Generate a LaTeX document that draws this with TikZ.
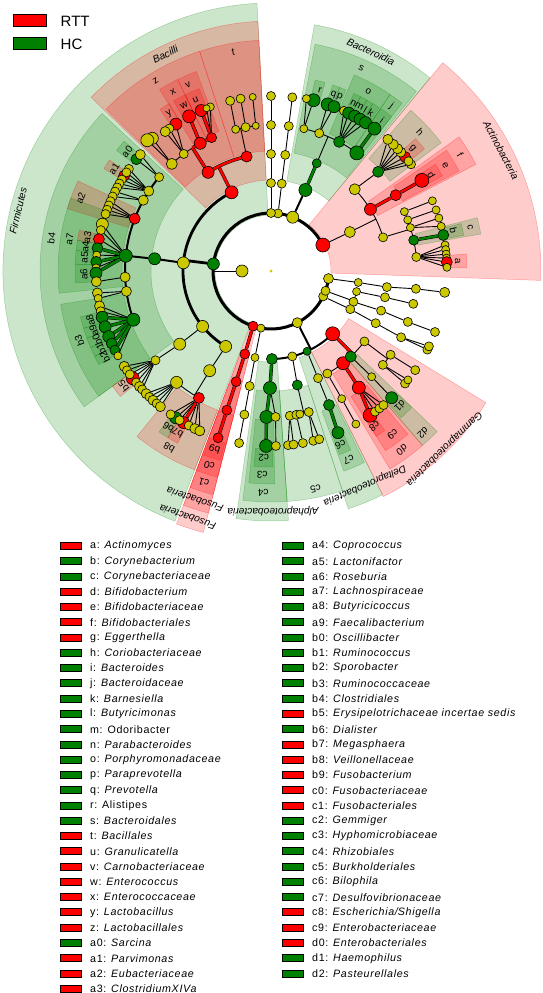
\documentclass[tikz,border=0pt]{standalone}
\usepackage{fontspec}
\setmainfont{Liberation Sans}
\newfontfamily\legfont[LetterSpace=6]{Liberation Sans}
\usetikzlibrary{positioning}
\definecolor{rtt}{RGB}{255,0,0}
\definecolor{hcg}{RGB}{0,128,0}
\definecolor{olv}{RGB}{204,200,0}
\pgfdeclarelayer{bg}
\pgfsetlayers{bg,main}

\begin{document}
\begin{tikzpicture}[x=1pt, y=1pt,
  nd/.style={circle, draw=black, line width=0.6pt, inner sep=0pt},
  yel/.style={nd, fill=olv},
  rd/.style={nd, fill=rtt},
  gr/.style={nd, fill=hcg},
  lnk/.style={line width=0.9pt},
  tlnk/.style={line width=2pt},
  rl/.style={line width=0.5pt, double=rtt, double distance=2.4pt},
  gl/.style={line width=0.5pt, double=hcg, double distance=2.4pt},
  glab/.style={font=\fontsize{10}{12}\selectfont, inner sep=0pt},
  clab/.style={font=\fontsize{10.2}{12}\selectfont\itshape, inner sep=0pt},
  legbox/.style={draw=black, line width=1pt, minimum width=21pt, minimum height=7pt, inner sep=0pt},
  legtxt/.style={font=\legfont\fontsize{10.7}{12}\selectfont, inner sep=0pt}
]
\useasboundingbox (-271,-722) rectangle (272,271);

% clades
\node[circle, fill=olv, inner sep=0pt, minimum size=3pt] (root) at (0,0) {};
\foreach \nm/\rr/\an/\st/\sz in {
  K/29/180/yel/12,
  pAct/58/26.6/rd/14, pBac/58/68/yel/12, pX1/58/83/yel/9, pX2/58/90/yel/9,
  pFir/58/173/gr/12, pFus/58/252/rd/10, pY/58/260/yel/8, pPro/58/297/yel/10,
  pR3/58/334/yel/9, pR2/58/340/yel/9, pR1/58/352.5/yel/10,
  % Actinobacteria
  cAct/88/26.3/yel/11, oAm/117/16.7/yel/9, f/117/31.8/rd/12, oCo/117/44.3/yel/11,
  fA1/146/24/yel/8, fA2/146/20.5/yel/8, fA3/146/17.3/yel/8, c/146/12.2/gr/10, fAm/146/5.5/yel/9,
  gA1/176/23.5/yel/8, gA2/176/20.3/yel/8, gA3/176/17.5/yel/8, gA4/176/14.7/yel/8, b/176/11.8/gr/11,
  gAm1/176/8.5/yel/8, gAm2/176/7/yel/8, gAm3/176/5.5/yel/8, gAm4/176/4.2/yel/8, a/176/2.9/rd/11, gAm5/176/1.2/yel/8,
  e/146/31.3/rd/11, d/176/31/rd/14,
  h/146/42.8/gr/11, g/176/40.4/rd/11, gH1/176/37.3/yel/9, gH2/176/38.6/yel/9,
  gH3/176/42.5/yel/10, gH4/176/44/yel/10, gH5/176/46/yel/10, gH6/176/48.4/yel/10,
  % Bacteroidetes
  cBa/88/67/gr/13, s/117/67/gr/9,
  fRi/146/77/yel/8, fPr/146/70.7/yel/9, o/146/62.2/gr/11, j/146/54/gr/14,
  r/176/76/gr/13, gRi/176/78.4/yel/8, q/176/71.2/gr/13, p/176/69/gr/12,
  gO0/176/65.5/yel/9, n/176/63.8/gr/12, m/176/61.6/gr/12, l/176/59.6/gr/12, k/176/57.5/gr/12,
  i/176/54/gr/13,
  cX1/88/83/yel/9, oX1/117/83/yel/9, fX1/146/83/yel/9, gX1/175/83/yel/9,
  cX2/88/90/yel/9, oX2/117/90/yel/9, fX2/146/90/yel/9, gX2/175/90/yel/9,
  % Firmicutes
  Bacl/88/116.6/rd/13, Clo/88/174.7/yel/12, Ery/88/219/yel/12, Neg/88/239/yel/12,
  t/117/102/rd/11, z/117/122.5/rd/12,
  fT1/146/104/yel/8, fT2/146/100/yel/9, fT3/146/96/yel/7,
  gT1/175/103.5/yel/9, gT2/175/100/yel/9, gT3/175/96/yel/7,
  v/146/114/rd/10, x/146/119/rd/12, fLa/146/126.7/yel/9, fZ4/146/132.8/yel/11,
  u/175/113.5/rd/12, gV1/175/110.3/yel/8, gV2/175/111.6/yel/7, w/175/117.9/rd/13,
  y/175/122.9/rd/12, gL1/175/125.5/yel/9, gL2/175/127.2/yel/10,
  gZ1/178/131.8/yel/12, gZ2/180/133.4/yel/13,
  b4/117/174/gr/12,
  fC1/146/140/yel/9, fC2/146/146.8/yel/10, fC3/146/151/yel/10, a2/146/159/rd/11,
  a7/146/174/gr/13, fC6/146/182.4/yel/10, fC7/146/188/yel/10, b3/146/199.5/gr/13,
  a0/175/140.3/gr/11, gC11/175/138.3/yel/10,
  a1/175/147/rd/11, gC21/175/144.3/yel/9, gC22/175/145.7/yel/9, gC23/175/148.5/yel/9, gC24/175/150/yel/9, gC25/175/151.5/yel/9,
  gC31/175/153/yel/9, gC32/175/154.8/yel/9,
  gE1/175/156.5/yel/9, gE2/175/158/yel/9, gE3/175/159.5/yel/9, gE4/175/161/yel/9,
  gL71/175/164.5/yel/12, gL72/175/166.5/yel/9, a3/175/169.5/rd/11, a4/175/172.5/gr/11,
  gL73/175/174.8/yel/8, a5/175/177/gr/11, gL74/175/179/yel/8, a6/175/180.7/gr/12,
  gC61/175/183.5/yel/10, gC71/175/187.2/yel/10, gC72/175/189/yel/8,
  gRu1/175/191.5/yel/10, gRu2/175/193.3/yel/9, a8/175/195.3/gr/12, a9/175/198.6/gr/12,
  b0/175/202/gr/12, b1/175/204.5/gr/11, b2/175/206.9/gr/10, gRu3/175/209/yel/8,
  eO/117/218.7/yel/12, eF/146/217.7/yel/9,
  b5/175/217.8/rd/13, gEr1/175/213/yel/10, gEr2/175/214.6/yel/9, gEr3/175/216.2/yel/9,
  gEr4/175/219.6/yel/9, gEr5/175/221.3/yel/10, gEr6/175/222.6/yel/9,
  nO/117/238.4/yel/12, nF1/146/229.7/yel/12, b8/146/240.4/rd/11,
  gN1/175/224.5/yel/10, gN2/175/226/yel/9, gN3/175/227.6/yel/10, gN4/175/229.2/yel/9, gN5/175/230.8/yel/10,
  b6/175/237/gr/12, b7/175/240/rd/12, gW1/175/235/yel/9, gW2/175/238.5/yel/9,
  gW3/175/242/yel/9, gW4/175/244.2/yel/10, gW5/175/246/yel/10,
  % Fusobacteria
  cFu/87/252.5/rd/10, c1/116/252.5/rd/10, c0/146/252.4/rd/10, b9/175/252.4/rd/10,
  cY/88/259.5/yel/8, oY/117/259.5/yel/9, fY/146/259.5/yel/9, gY/175/259.5/yel/9,
  % Proteobacteria
  alp/88/270.6/gr/11, bet/88/284/yel/9, del/88/294.2/gr/8, gam/88/314.5/rd/14,
  c4/117/269.5/gr/13, c3/146/268.2/gr/13, fAl2/146/271.8/yel/9, c2/175/268.4/gr/13, gAl2/175/271.6/yel/9,
  c5/117/283/gr/10, fB1/146/277.4/yel/9, fB2/146/280/yel/9, fB3/146/281.4/yel/8, fB4/146/285/yel/9,
  gBe1/175/275.6/yel/9, gBe2/175/277.4/yel/9, gBe3/175/280.5/yel/9, gBe4/175/284/yel/9, gBe5/175/286/yel/9,
  dO/117/293.7/yel/9, c7/146/293.4/gr/11, c6/175/292.5/gr/12,
  gO1/117/298.8/yel/9, d0/117/308/rd/13, d2/117/313/gr/11, gO4/117/323/yel/9,
  gF1/146/299/yel/8, gG1/175/299/yel/8,
  c9/146/307/rd/13, c8/175/304.5/rd/14, gC91/175/306.5/yel/9, gC92/175/308.3/yel/9, gC93/175/310/yel/9,
  dF/146/313.6/yel/8, d1/175/313.6/gr/12,
  fG41/146/320/yel/9, fG42/146/325/yel/9, gG41/175/320/yel/9, gG42/175/321.5/yel/8, gG43/175/325.5/yel/9,
  % right side
  cQ1/88/352.5/yel/8, oQ1/117/352.1/yel/9, fQ1/146/353/yel/9, gQ1/175/353/yel/10,
  cQ2/88/346.5/yel/8, oQ2/117/347/yel/9, fQ2/146/347/yel/9,
  cQ3/88/339.5/yel/9, oQ3/117/340.2/yel/9, fQ3/146/339.6/yel/9, gQ3/175/339.6/yel/9,
  cQ4/88/334.3/yel/9, oQ4/117/333.5/yel/9, fQ4/146/333/yel/9, gQ4/175/333.3/yel/9, gQ5/175/334.5/yel/9}
  \node[\st, minimum size=\sz pt] (\nm) at (\an:\rr) {};

\begin{pgfonlayer}{bg}
% shaded clades: colour / inner / outer / from / to
\foreach \cl/\ri/\ro/\aa/\ab in {
  hcg/56/268/93/249, rtt/60/270/-2/50.5, rtt/56/270/249.5/255.5,
  rtt/91/250/93/136, hcg/91/250/50.5/80, rtt/90/250/249.5/255.5,
  hcg/91/250/262/274, hcg/91/250/288/296.5, rtt/91/252/296.5/328.5,
  rtt/120/231/93/108, rtt/120/231/108/135.5, hcg/120/231/137/216, rtt/120/231/27.5/35.5,
  hcg/120/231/51/79, rtt/120/231/249.5/255.5, hcg/120/231/263/274, hcg/120/231/274/288,
  rtt/120/231/301/311, hcg/120/231/311/316,
  rtt/149/213/110.5/116, rtt/149/213/116/121.5, rtt/149/213/155/163, hcg/149/213/160/186,
  hcg/149/213/189/216, rtt/149/213/231/249, rtt/149/213/28/34.5, hcg/149/213/37/49,
  hcg/149/213/10/14.5, hcg/149/213/56/67, hcg/149/213/52/56, rtt/149/213/249.5/255.5,
  hcg/149/213/264/271, hcg/149/213/290/296, rtt/149/213/302.5/310,
  rtt/178/196/1/5, hcg/178/196/10.5/14, rtt/178/196/29/33, rtt/178/196/38.5/42.5,
  hcg/178/196/52/56, hcg/178/196/56.5/58.7, hcg/178/196/58.7/60.7, hcg/178/196/60.7/62.8,
  hcg/178/196/62.8/65, hcg/178/196/67.5/69.5, hcg/178/196/69.5/71.7, hcg/178/196/74/77,
  rtt/178/196/111.5/116, rtt/178/196/116/119.8, rtt/178/196/121.3/124.5,
  hcg/178/196/138.5/142, rtt/178/196/145.5/148.5, rtt/178/196/168/171, hcg/178/196/171/174,
  hcg/178/196/174/178, hcg/178/196/178/183.5, hcg/178/196/193.5/197, hcg/178/196/197/200,
  hcg/178/196/200/203, hcg/178/196/203/205.8, hcg/178/196/205.8/208.5, rtt/178/196/216/219.8,
  hcg/178/196/235.2/238.3, rtt/178/196/238.3/241.5, rtt/178/196/250/255, hcg/178/196/265/270.5,
  hcg/178/196/290.5/294, rtt/178/196/302.5/305.5, hcg/178/196/311.5/315.8}
  \filldraw[fill=\cl, draw=\cl, fill opacity=0.2, draw opacity=0.3, line width=0.5pt]
    (\aa:\ri) arc[start angle=\aa, end angle=\ab, radius=\ri]
    -- (\ab:\ro) arc[start angle=\ab, end angle=\aa, radius=\ro] -- cycle;

% arcs of the tree
\draw[line width=3pt] (26.6:58) arc[start angle=26.6, end angle=352.5, radius=58];
\draw[lnk] (K) -- (180:58);
\draw[line width=2.8pt] (pFir) -- (173:88);
\draw[line width=2.8pt] (116.6:88) arc[start angle=116.6, end angle=239, radius=88];
\draw[lnk] (cAct) -- (26.3:117);
\draw[lnk] (16.7:117) arc[start angle=16.7, end angle=44.3, radius=117];
\draw[lnk] (oAm) -- (16.7:146);
\draw[lnk] (5.5:146) arc[start angle=5.5, end angle=24, radius=146];
\draw[lnk] (s) -- (67:146);
\draw[lnk] (54:146) arc[start angle=54, end angle=77, radius=146];
\draw[rl] (Bacl) -- (116.6:117);
\draw[rl] (102:117) arc[start angle=102, end angle=122.5, radius=117];
\draw[lnk] (t) -- (102:146);
\draw[lnk] (96:146) arc[start angle=96, end angle=104, radius=146];
\draw[lnk] (122.5:146) arc[start angle=122.5, end angle=132.8, radius=146];
\draw[rl] (z) -- (122.5:146);
\draw[rl] (114:146) arc[start angle=114, end angle=122.5, radius=146];
\draw[tlnk] (b4) -- (174:146);
\draw[tlnk] (140:146) arc[start angle=140, end angle=199.5, radius=146];
\draw[lnk] (nO) -- (238.4:146);
\draw[lnk] (229.7:146) arc[start angle=229.7, end angle=240.4, radius=146];
\draw[tlnk] (pPro) -- (297:88);
\draw[tlnk] (270.6:88) arc[start angle=270.6, end angle=314.5, radius=88];
\draw[lnk] (c5) -- (283:146);
\draw[lnk] (277.4:146) arc[start angle=277.4, end angle=285, radius=146];
\draw[lnk] (298.8:117) arc[start angle=298.8, end angle=323, radius=117];
\draw[rl] (gam) -- (314.5:117);
\draw[rl] (308:117) arc[start angle=308, end angle=314.5, radius=117];
\draw[lnk] (gO4) -- (323:146);
\draw[lnk] (320:146) arc[start angle=320, end angle=325, radius=146];
\draw[lnk] (pR2) -- (340:88);
\draw[lnk] (339.5:88) arc[start angle=339.5, end angle=346.5, radius=88];

% straight links
\foreach \pa/\ch in {pAct/cAct, oCo/h, fA1/gA1, fA2/gA2, fA3/gA3, fA3/gA4,
  fAm/gAm1, fAm/gAm2, fAm/gAm3, fAm/gAm4, fAm/a, fAm/gAm5,
  h/g, h/gH1, h/gH2, h/gH3, h/gH4, h/gH5, h/gH6,
  fRi/r, fRi/gRi, fPr/q, fPr/p, o/gO0, o/n, o/m, o/l, o/k,
  pX1/cX1, cX1/oX1, oX1/fX1, fX1/gX1, pX2/cX2, cX2/oX2, oX2/fX2, fX2/gX2,
  fT1/gT1, fT2/gT2, fT3/gT3, v/gV1, v/gV2, fLa/y, fLa/gL1, fLa/gL2, fZ4/gZ1, fZ4/gZ2,
  fC1/a0, fC1/gC11, fC2/a1, fC2/gC21, fC2/gC22, fC2/gC23, fC2/gC24, fC2/gC25,
  fC3/gC31, fC3/gC32, a2/gE1, a2/gE2, a2/gE3, a2/gE4,
  a7/gL71, a7/gL72, a7/a3, a7/gL73, a7/gL74, fC6/gC61, fC7/gC71, fC7/gC72,
  b3/gRu1, b3/gRu2, b3/gRu3, Ery/eO, eO/eF, eF/b5, eF/gEr1, eF/gEr2, eF/gEr3,
  eF/gEr4, eF/gEr5, eF/gEr6, Neg/nO, nF1/gN1, nF1/gN2, nF1/gN3, nF1/gN4, nF1/gN5,
  b8/b6, b8/gW1, b8/gW2, b8/gW3, b8/gW4, b8/gW5,
  pY/cY, cY/oY, oY/fY, fY/gY, bet/c5, del/dO, dO/c7, c4/fAl2, fAl2/gAl2,
  fB1/gBe1, fB1/gBe2, fB2/gBe3, fB4/gBe4, fB4/gBe5,
  gO1/gF1, gF1/gG1, d2/dF, dF/d1, fG41/gG41, fG41/gG42, fG42/gG43, c9/gC91, c9/gC92, c9/gC93,
  pR1/cQ1, cQ1/oQ1, oQ1/fQ1, fQ1/gQ1, cQ2/oQ2, oQ2/fQ2, cQ3/oQ3, oQ3/fQ3, fQ3/gQ3,
  pR3/cQ4, cQ4/oQ4, oQ4/fQ4, fQ4/gQ4, fQ4/gQ5}
  \draw[lnk] (\pa) -- (\ch);
\draw[tlnk] (pBac) -- (cBa);
\draw[tlnk] (Clo) -- (b4);
\foreach \pa/\ch in {c/b, cBa/s, j/i, a7/a4, a7/a5, a7/a6, b3/a8, b3/a9, b3/b0, b3/b1, b3/b2,
  alp/c4, c4/c3, c3/c2, c7/c6}
  \draw[gl] (\pa) -- (\ch);
\foreach \pa/\ch in {f/e, e/d, v/u, x/w, b8/b7, pFus/cFu, cFu/c1, c1/c0, c0/b9, d0/c9, c9/c8}
  \draw[rl] (\pa) -- (\ch);
\end{pgfonlayer}

% clade labels
\foreach \tx/\an in {a/3, b/12.5, d/31, g/40.8, i/53.5, k/57.7, l/59.7, m/61.8, n/63.9,
  p/68.5, q/70.5, r/74.8, u/113.8, w/117.7, y/122.9, a0/140.3, a1/147, a3/169.5, a4/172.5,
  a5/175.8, a6/181, a8/195.3, a9/198.6, b0/201.6, b1/204.5, b2/207.3, b5/218, b6/236.7,
  b7/240, b9/252.4, c2/267.8, c6/291.8, c8/303.6, d1/313.7}
  \node[glab, rotate=\an-90] at (\an:187) {\tx};
\foreach \tx/\an in {c/12.3, e/31.3, h/43, j/53.8, o/61.5, v/114, x/118.7, a2/159, a7/171,
  b3/200, b8/240, c0/252.4, c3/267.5, c7/292.4, c9/306.6}
  \node[glab, rotate=\an-90] at (\an:204) {\tx};
\foreach \tx/\an in {f/31.5, s/66, t/99.8, z/121.3, b4/171.5, c1/252.4, c4/268, c5/281.6,
  d0/306.2, d2/313.2}
  \node[glab, rotate=\an-90] at (\an:222) {\tx};
\foreach \tx/\an/\rr in {Bacilli/116/241, Bacteroidia/65.5/241, Fusobacteria/251.6/241,
  Alphaproteobacteria/270.5/240, Deltaproteobacteria/293.6/234, Gammaproteobacteria/314.3/248}
  \node[clab, rotate=\an-90] at (\an:\rr) {\tx};
\foreach \tx/\an in {Firmicutes/166.6, Actinobacteria/27.7, Fusobacteria/251.3}
  \node[clab, rotate=\an-90] at (\an:260) {\tx};

% class key
\node[legbox, minimum width=33pt, minimum height=12pt, fill=rtt] (kR) at (-240.5,250) {};
\node[legbox, minimum width=33pt, minimum height=12pt, fill=hcg] (kH) at (-240.5,227) {};
\node[font=\fontsize{15}{17}\selectfont, inner sep=0pt, right=13pt of kR] {RTT};
\node[font=\fontsize{15}{17}\selectfont, inner sep=0pt, right=13pt of kH] {HC};

% clade key
\foreach \k/\tx/\cl [count=\i from 0] in {a/Actinomyces/rtt, b/Corynebacterium/hcg,
  c/Corynebacteriaceae/hcg, d/Bifidobacterium/rtt, e/Bifidobacteriaceae/rtt,
  f/Bifidobacteriales/rtt, g/Eggerthella/rtt, h/Coriobacteriaceae/hcg, i/Bacteroides/hcg,
  j/Bacteroidaceae/hcg, k/Barnesiella/hcg, l/Butyricimonas/hcg, m/{\upshape Odoribacter}/hcg,
  n/Parabacteroides/hcg, o/Porphyromonadaceae/hcg, p/Paraprevotella/hcg, q/Prevotella/hcg,
  r/{\upshape Alistipes}/hcg, s/Bacteroidales/hcg, t/Bacillales/rtt, u/Granulicatella/rtt,
  v/Carnobacteriaceae/rtt, w/Enterococcus/rtt, x/Enterococcaceae/rtt, y/Lactobacillus/rtt,
  z/Lactobacillales/rtt, a0/Sarcina/hcg, a1/Parvimonas/rtt, a2/Eubacteriaceae/rtt,
  a3/ClostridiumXIVa/rtt} {
  \node[legbox, fill=\cl] (lk\i) at (-200,-275-15.27*\i) {};
  \node[legtxt, right=8pt of lk\i] {\k: \textit{\tx}};
}
\foreach \k/\tx/\cl [count=\i from 0] in {a4/Coprococcus/hcg, a5/Lactonifactor/hcg,
  a6/Roseburia/hcg, a7/Lachnospiraceae/hcg, a8/Butyricicoccus/hcg, a9/Faecalibacterium/hcg,
  b0/Oscillibacter/hcg, b1/Ruminococcus/hcg, b2/Sporobacter/hcg, b3/Ruminococcaceae/hcg,
  b4/Clostridiales/hcg, b5/Erysipelotrichaceae incertae sedis/rtt, b6/Dialister/hcg,
  b7/Megasphaera/rtt, b8/Veillonellaceae/rtt, b9/Fusobacterium/rtt, c0/Fusobacteriaceae/rtt,
  c1/Fusobacteriales/rtt, c2/Gemmiger/hcg, c3/Hyphomicrobiaceae/hcg, c4/Rhizobiales/hcg,
  c5/Burkholderiales/hcg, c6/Bilophila/hcg, c7/Desulfovibrionaceae/hcg,
  c8/Escherichia\slash Shigella/rtt, c9/Enterobacteriaceae/rtt, d0/Enterobacteriales/rtt,
  d1/Haemophilus/hcg, d2/Pasteurellales/hcg} {
  \node[legbox, fill=\cl] (rk\i) at (22,-275-15.27*\i) {};
  \node[legtxt, right=8pt of rk\i] {\k: \textit{\tx}};
}
\end{tikzpicture}
\end{document}
